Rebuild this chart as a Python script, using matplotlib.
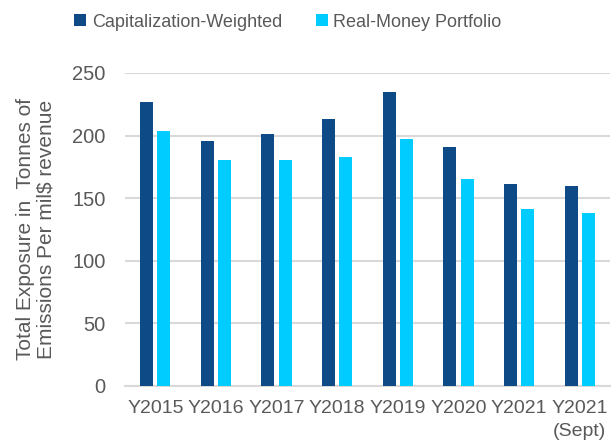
import matplotlib
matplotlib.use("Agg")
import matplotlib.pyplot as plt
import numpy as np

categories = ["Y2015", "Y2016", "Y2017", "Y2018", "Y2019", "Y2020", "Y2021", "Y2021\n(Sept)"]
cap_weighted = [226.5, 196, 201, 213, 235, 190.5, 161.5, 160]
real_money = [204, 180.5, 180.5, 182.5, 197.5, 165, 141, 138]
series_names = ["Capitalization-Weighted", "Real-Money Portfolio"]
yticks = [0, 50, 100, 150, 200, 250]

plt.rcParams['font.family'] = ['Liberation Sans', 'DejaVu Sans']

dark = "#0e4a86"
cyan = "#00ccff"
grey_text = "#595959"
grid_c = "#d9d9d9"

fig = plt.figure(figsize=(6.13, 4.42), dpi=100)
ax = fig.add_axes([0.204, 0.127, 0.791, 0.708])

x = np.arange(len(categories))
w = 0.215
off = 0.142
ax.bar(x - off, cap_weighted, width=w, color=dark, label=series_names[0], zorder=3)
ax.bar(x + off, real_money, width=w, color=cyan, label=series_names[1], zorder=3)

ax.set_xlim(-0.5, len(categories) - 0.5)
ax.set_ylim(0, 250)
ax.set_yticks(yticks)
ax.yaxis.grid(True, color=grid_c, linewidth=1.5, zorder=0)
ax.set_axisbelow(True)
for s in ["top", "right", "left"]:
    ax.spines[s].set_visible(False)
ax.spines["bottom"].set_color(grid_c)
ax.spines["bottom"].set_linewidth(1.5)
ax.tick_params(axis="both", length=0, colors=grey_text, labelsize=14.5)
ax.tick_params(axis="y", pad=14)
ax.tick_params(axis="x", pad=10)
ax.set_xticks(x)
ax.set_xticklabels(categories, fontsize=14, color=grey_text, linespacing=1.45)

ax.set_ylabel("Total Exposure in  Tonnes of\nEmissions Per mil$ revenue", fontsize=15,
              color=grey_text, labelpad=12, linespacing=1.1)

leg = fig.legend(loc="center left", bbox_to_anchor=(0.095, 0.95), ncol=2, frameon=False,
                 prop={"size": 13},
                 handlelength=0.65, handleheight=0.65, handletextpad=0.3,
                 columnspacing=1.9, labelcolor=grey_text)

fig.savefig("out.png", dpi=100)
